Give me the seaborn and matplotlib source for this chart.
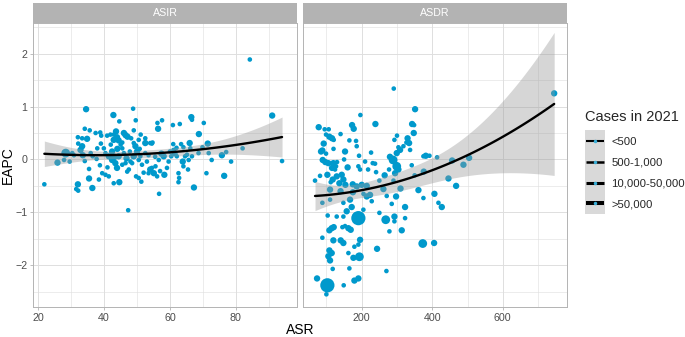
import numpy as np
import pandas as pd
import matplotlib
matplotlib.use("Agg")
import matplotlib.pyplot as plt
import seaborn as sns
from matplotlib.legend_handler import HandlerBase
from matplotlib.patches import Rectangle
from matplotlib.lines import Line2D

# ---------------- data ----------------
size_labels = ["<500", "500-1,000", "10,000-50,000", ">50,000"]
facet_names = ["ASIR", "ASDR"]

asir_x = [21.8, 84.3, 94.1, 91.1, 82.1, 78.6, 76.5, 77.1, 75.8, 34.5, 48.8, 42.8, 49.6, 44.6, 57.6, 56.2,
          60.9, 63.0, 66.5, 66.7, 70.3, 56.4, 34.1, 35.6, 68.8, 49.0, 37.4, 38.8, 39.1, 40.9, 41.9, 42.9,
          43.6, 43.9, 46.0, 46.5, 47.1, 51.1, 32.0, 33.3, 34.8, 42.9, 44.4, 45.5, 48.2, 50.5, 52.5, 54.0,
          54.7, 61.0, 63.4, 64.1, 66.0, 71.5, 69.9, 32.1, 33.3, 28.3, 25.8, 27.8, 30.3, 32.8, 33.5, 35.9,
          34.1, 35.4, 35.4, 36.4, 32.0, 31.5, 32.1, 38.4, 38.7, 37.7, 37.9, 39.4, 40.4, 41.4, 42.9, 44.6,
          39.9, 40.4, 41.4, 42.4, 42.4, 43.4, 43.9, 44.4, 45.5, 46.0, 46.5, 47.0, 47.5, 48.0, 47.3, 48.5,
          49.0, 49.5, 50.0, 50.5, 51.0, 51.5, 49.0, 49.7, 50.5, 51.3, 52.0, 52.5, 52.5, 53.0, 53.5, 54.0,
          54.5, 55.1, 55.6, 56.1, 56.6, 56.7, 57.4, 58.1, 58.3, 59.1, 59.6, 60.4, 61.1, 61.4, 62.1, 62.6,
          62.8, 62.6, 63.9, 64.1, 64.6, 65.2, 65.7, 65.5, 66.2, 66.7, 67.3, 68.7, 71.1, 71.8, 72.7,
          44.0, 45.0, 47.8, 42.0, 43.2, 45.5, 48.8, 50.8, 53.5, 46.8, 41.0, 39.0, 55.5, 57.0, 60.0, 36.5,
          30.8, 29.5, 62.0, 54.5]
asir_y = [-0.47, 1.89, -0.03, 0.83, 0.21, -0.04, -0.31, 0.14, 0.08, 0.95, 0.96, 0.84, 0.74, 0.72, 0.74, 0.69,
          0.65, 0.67, 0.80, 0.75, 0.69, 0.58, 0.58, 0.55, 0.48, 0.55, 0.50, 0.51, 0.45, 0.45, 0.47, 0.47,
          0.53, 0.42, 0.50, 0.46, 0.43, 0.47, 0.42, 0.40, 0.39, 0.37, 0.36, 0.32, 0.40, 0.37, 0.40, 0.31,
          0.32, 0.29, 0.29, 0.23, 0.31, 0.30, 0.23, 0.30, 0.25, 0.12, -0.06, -0.01, 0.12, 0.18, 0.08, 0.12,
          -0.03, -0.18, -0.36, -0.54, -0.47, -0.56, -0.59, -0.38, -0.11, 0.01, 0.21, -0.26, -0.29, -0.32, -0.45, -0.43,
          0.21, 0.12, 0.06, 0.15, -0.01, -0.07, -0.16, 0.06, 0.21, 0.12, -0.07, -0.23, -0.19, -0.04, -0.96, -0.07,
          0.31, 0.25, 0.15, -0.01, 0.06, -0.10, 0.06, -0.32, -0.35, -0.42, -0.25, 0.12, 0.31, -0.04, -0.26, -0.19,
          -0.16, -0.26, -0.13, -0.32, -0.01, -0.65, 0.11, 0.06, -0.29, -0.16, -0.04, 0.06, 0.18, 0.12, 0.06, -0.26,
          -0.35, -0.43, -0.04, -0.13, 0.06, 0.09, -0.01, -0.19, 0.21, 0.06, -0.53, 0.12, -0.26, 0.12, -0.01,
          0.20, 0.28, 0.15, 0.28, 0.05, -0.10, 0.05, 0.20, 0.08, 0.02, -0.15, 0.30, 0.05, -0.22, 0.15, 0.06,
          0.08, -0.04, 0.22, 0.30]
asir_cat = [1, 1, 1, 2, 1, 1, 2, 1, 2, 2, 1, 2, 1, 1, 1, 1,
            1, 1, 2, 1, 1, 2, 1, 1, 2, 1, 1, 1, 1, 1, 1, 1,
            2, 2, 2, 2, 2, 1, 1, 1, 2, 2, 2, 1, 1, 1, 1, 1,
            1, 1, 1, 1, 2, 2, 1, 1, 2, 3, 2, 1, 1, 2, 2, 1,
            1, 1, 2, 2, 2, 1, 1, 1, 1, 1, 1, 1, 1, 1, 1, 2,
            1, 1, 2, 2, 2, 2, 2, 2, 1, 1, 1, 1, 1, 1, 1, 1,
            1, 2, 2, 1, 1, 1, 2, 1, 1, 1, 1, 1, 2, 1, 1, 2,
            1, 2, 1, 1, 1, 1, 2, 2, 2, 1, 1, 1, 1, 2, 1, 1,
            1, 1, 2, 1, 1, 1, 1, 1, 1, 1, 2, 1, 1, 1, 1,
            2, 1, 1, 1, 2, 1, 1, 1, 1, 2, 1, 1, 1, 1, 1, 1,
            1, 1, 1, 1]

asdr_x = [290.8, 745.6, 351.3, 196.2, 78.0, 95.0, 106.4, 172.6, 177.3, 238.8, 342.8, 348.5, 347.5, 98.8, 108.3, 115.8,
          120.6, 165.0, 183.9, 292.7, 326.7, 334.3, 318.2, 92.2, 152.7, 185.8, 88.4, 84.6, 98.8, 192.4, 226.5, 304.0,
          308.7, 337.1, 299.3, 89.4, 96.9, 105.4, 119.6, 127.2, 115.8, 124.4, 209.5, 231.2, 190.5, 195.3, 237.8, 218.0,
          240.7, 288.9, 299.3, 304.0, 294.6, 341.8, 277.5, 374.9, 381.6, 392.0, 413.7, 456.3, 504.5, 488.4, 375.9, 445.9,
          467.6, 406.1, 374.9, 417.5, 427.0, 360.8, 67.6, 81.8, 102.6, 112.1, 117.7, 129.1, 136.6, 143.3, 148.0, 153.7,
          110.2, 174.5, 185.8, 200.0, 214.2, 223.6, 228.4, 214.2, 261.5, 270.9, 285.1, 297.4, 322.9, 88.4, 110.2, 148.0,
          166.9, 171.6, 157.4, 190.5, 103.5, 129.1, 148.0, 204.7, 250.1, 268.1, 292.7, 292.7, 322.9, 278.5, 313.5, 108.3,
          114.9, 120.6, 145.2, 152.7, 162.2, 168.8, 88.4, 119.6, 140.4, 148.0, 195.3, 190.5, 179.2, 373.0, 405.2, 243.5,
          108.3, 114.9, 105.4, 162.2, 176.4, 193.4, 110.2, 117.7, 165.0, 270.0, 73.3, 102.6, 99.8, 148.9, 179.2, 190.5,
          140.0, 175.0, 205.0, 250.0, 265.0, 130.0, 150.0, 160.0, 280.0, 300.0, 330.0, 140.0, 290.0, 310.0, 120.0, 350.0]
asdr_y = [1.34, 1.25, 0.95, 0.84, 0.61, 0.57, 0.57, 0.65, 0.58, 0.67, 0.67, 0.65, 0.50, 0.47, 0.43, 0.40,
          0.37, 0.36, 0.35, 0.37, 0.32, 0.31, 0.25, 0.30, 0.15, 0.25, 0.17, 0.15, 0.11, 0.07, 0.13, 0.23,
          0.18, 0.18, 0.12, -0.01, -0.05, -0.07, -0.07, -0.13, -0.16, -0.19, -0.04, -0.07, -0.13, -0.19, -0.08, -0.19,
          -0.24, -0.01, -0.13, -0.19, -0.26, -0.11, -0.19, 0.06, 0.07, 0.07, 0.04, -0.02, 0.03, -0.10, -0.23, -0.36,
          -0.50, -0.65, -0.73, -0.82, -0.90, -0.58, -0.40, -0.31, -0.29, -0.43, -0.38, -0.32, -0.45, -0.29, -0.38, -0.48,
          -0.57, -0.47, -0.51, -0.48, -0.50, -0.67, -0.79, -0.70, -0.56, -0.69, -0.84, -0.70, -0.90, -0.82, -0.76, -0.82,
          -0.76, -0.90, -0.98, -1.11, -1.06, -1.08, -1.08, -0.95, -1.01, -1.14, -1.08, -1.17, -1.11, -1.36, -1.34, -1.34,
          -1.30, -1.28, -1.28, -1.26, -1.30, -1.33, -1.48, -1.53, -1.53, -1.58, -1.52, -1.61, -1.65, -1.59, -1.58, -1.69,
          -1.72, -1.77, -1.83, -1.77, -1.86, -1.84, -1.91, -2.07, -2.06, -2.11, -2.25, -2.38, -2.55, -2.38, -2.29, -2.25,
          -0.60, -0.62, -0.65, -0.40, -0.30, -0.05, 0.00, -0.15, 0.05, 0.45, 0.40, 0.48, -0.40, -0.55, 0.20, -0.30]
asdr_cat = [1, 2, 2, 1, 2, 1, 1, 2, 2, 2, 2, 1, 2, 1, 2, 2,
            1, 1, 1, 1, 1, 2, 1, 2, 2, 1, 2, 2, 1, 1, 1, 1,
            2, 1, 2, 2, 2, 2, 2, 1, 2, 1, 1, 1, 1, 1, 1, 1,
            1, 3, 3, 2, 2, 1, 1, 1, 2, 1, 1, 2, 2, 2, 2, 2,
            2, 2, 1, 1, 2, 2, 1, 1, 2, 1, 2, 2, 2, 2, 2, 2,
            2, 2, 2, 2, 2, 2, 1, 2, 2, 1, 1, 2, 2, 1, 1, 1,
            2, 2, 2, 4, 1, 1, 1, 1, 1, 3, 2, 1, 1, 1, 2, 2,
            2, 2, 1, 1, 2, 2, 1, 2, 2, 2, 2, 1, 1, 3, 2, 2,
            2, 2, 2, 1, 2, 3, 2, 1, 1, 1, 2, 4, 1, 1, 2, 2,
            2, 2, 1, 1, 2, 1, 1, 2, 2, 1, 2, 1, 1, 2, 1, 1]

# ---------------- style ----------------
sns.set_theme(style="white")
plt.rcParams["font.family"] = ["Liberation Sans", "DejaVu Sans"]

POINT = "#0099CC"
GRID = "#DEDEDE"
BORDER = "#B3B3B3"
TICKTXT = "#4D4D4D"
size_map = {size_labels[0]: 11, size_labels[1]: 21, size_labels[2]: 40, size_labels[3]: 105}


def quad_band(x, y, xs, tq=1.972):
    """Quadratic least-squares fit with analytic 95% confidence band."""
    x = np.asarray(x, float)
    y = np.asarray(y, float)
    X = np.column_stack([np.ones_like(x), x, x ** 2])
    beta, *_ = np.linalg.lstsq(X, y, rcond=None)
    res = y - X @ beta
    sigma2 = np.sum(res ** 2) / (len(x) - 3)
    XtXi = np.linalg.inv(X.T @ X)
    Xs = np.column_stack([np.ones_like(xs), xs, xs ** 2])
    fit = Xs @ beta
    se = np.sqrt(sigma2 * np.einsum("ij,jk,ik->i", Xs, XtXi, Xs))
    return fit, fit - tq * se, fit + tq * se


df = pd.concat([
    pd.DataFrame({"facet": facet_names[0], "ASR": asir_x, "EAPC": asir_y,
                  "cases": [size_labels[c - 1] for c in asir_cat]}),
    pd.DataFrame({"facet": facet_names[1], "ASR": asdr_x, "EAPC": asdr_y,
                  "cases": [size_labels[c - 1] for c in asdr_cat]}),
])

W, H = 685, 337
fig = plt.figure(figsize=(W / 100, H / 100), dpi=100)


def fx(px):
    return px / W


def fy(py):
    return 1 - py / H


panel_px = [(33, 297), (303, 567)]
top_px, bot_px, strip_top = 23, 307, 3
xlims = [(18.35, 98.65), (33.5, 782)]
ylim = (-2.79, 2.58)
xmaj = [[20, 40, 60, 80], [200, 400, 600]]
xmin = [[30, 50, 70, 90], [100, 300, 500, 700]]
ymaj = [-2, -1, 0, 1, 2]
ymin_t = [-2.5, -1.5, -0.5, 0.5, 1.5, 2.5]

for i, name in enumerate(facet_names):
    x0, x1 = panel_px[i]
    ax = fig.add_axes([fx(x0), fy(bot_px), fx(x1) - fx(x0), fy(top_px) - fy(bot_px)])
    sub = df[df["facet"] == name]
    sns.scatterplot(data=sub, x="ASR", y="EAPC", size="cases", sizes=size_map,
                    size_order=size_labels, color=POINT, linewidth=0, alpha=1,
                    legend=False, ax=ax, zorder=2)
    xs = np.linspace(sub["ASR"].min(), sub["ASR"].max(), 100)
    fit, lo, hi = quad_band(sub["ASR"].values, sub["EAPC"].values, xs)
    ax.fill_between(xs, lo, hi, color="#999999", alpha=0.4, lw=0, zorder=3)
    sns.lineplot(x=xs, y=fit, color="black", lw=1.7, ax=ax, zorder=4)
    ax.set_xlim(*xlims[i])
    ax.set_ylim(*ylim)
    ax.set_xticks(xmaj[i])
    ax.set_xticks(xmin[i], minor=True)
    ax.set_yticks(ymaj)
    ax.set_yticks(ymin_t, minor=True)
    ax.grid(True, which="major", color=GRID, lw=0.7)
    ax.grid(True, which="minor", color=GRID, lw=0.4)
    ax.set_axisbelow(True)
    ax.set_xlabel("")
    ax.set_ylabel("")
    for s in ax.spines.values():
        s.set_color(BORDER)
        s.set_linewidth(0.7)
    ax.tick_params(axis="both", which="major", colors=BORDER, labelcolor=TICKTXT,
                   labelsize=7.7, length=2.5, width=0.6, pad=1.5, direction="out")
    ax.tick_params(axis="both", which="minor", length=0)
    ax.tick_params(bottom=True, left=(i == 0), labelleft=(i == 0))
    # strip
    sax = fig.add_axes([fx(x0), fy(top_px), fx(x1) - fx(x0), fy(strip_top) - fy(top_px)])
    sax.set_facecolor(BORDER)
    sax.set_xticks([])
    sax.set_yticks([])
    for s in sax.spines.values():
        s.set_visible(False)
    sax.text(0.5, 0.5, name, color="white", fontsize=7.7, ha="center", va="center",
             transform=sax.transAxes)

fig.text(fx(300), fy(330), "ASR", fontsize=10, color="black", ha="center", va="center")
fig.text(fx(8), fy(165), "EAPC", fontsize=10, color="black", ha="center", va="center", rotation=90)


# ---------------- legend ----------------
class KeyHandle:
    def __init__(self, lw):
        self.lw = lw


class KeyHandler(HandlerBase):
    def create_artists(self, legend, orig_handle, xdescent, ydescent, width, height, fontsize, trans):
        pad = legend.labelspacing * fontsize / 2 + 0.8
        rect = Rectangle((-xdescent, -ydescent - pad), width, height + 2 * pad,
                         facecolor="#D9D9D9", edgecolor="none", transform=trans)
        mid = -ydescent + height / 2
        line = Line2D([-xdescent + width * 0.06, -xdescent + width * 0.94], [mid, mid],
                      color="black", lw=orig_handle.lw, solid_capstyle="butt", transform=trans)
        dot = Line2D([-xdescent + width / 2], [mid], marker="o", ms=1.5, color="#3AAFD8",
                     lw=0, transform=trans)
        return [rect, line, dot]


handles = [KeyHandle(w) for w in [1.5, 1.8, 2.2, 2.9]]
leg = fig.legend(handles, size_labels, title="Cases in 2021", loc="upper left",
                 bbox_to_anchor=(fx(580), fy(105)), frameon=False, fontsize=8.2,
                 title_fontsize=10.5, handlelength=1.83, handleheight=1.0,
                 labelspacing=0.85, handletextpad=0.52, borderaxespad=0,
                 handler_map={KeyHandle: KeyHandler()})
leg._legend_box.align = "left"
leg._legend_box.sep = 9

fig.savefig("out.png", dpi=100)
